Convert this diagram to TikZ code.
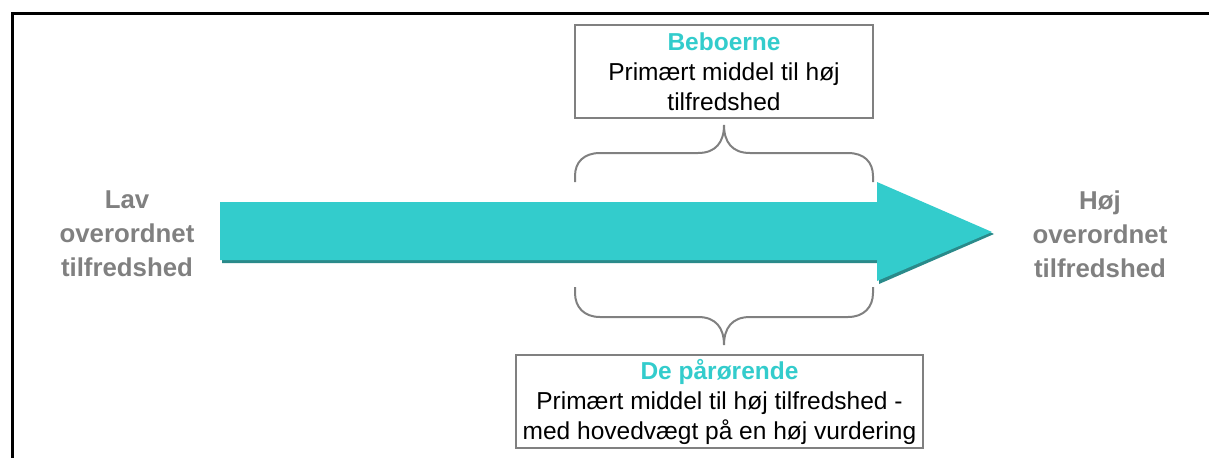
\documentclass[tikz,border=0pt]{standalone}
\usepackage{fontspec}
\setmainfont{Liberation Sans}
\definecolor{teal1}{HTML}{33CCCC}
\definecolor{teal2}{HTML}{2A8A8A}
\definecolor{greytxt}{HTML}{808080}
\definecolor{greyline}{HTML}{808080}
\tikzset{
  sidetext/.style={align=center, text=greytxt, font=\fontsize{25.8}{34}\selectfont\bfseries, inner sep=0pt},
  infobox/.style={draw=greyline, line width=2pt, align=center, inner sep=0pt, font=\fontsize{24.5}{30}\selectfont},
  bracestyle/.style={draw=greyline, line width=2pt},
  frameline/.style={draw=black, line width=3pt}
}
\begin{document}
\begin{tikzpicture}[x=1pt,y=-1pt]
\useasboundingbox (0,0) rectangle (1209,458);
% frame
\draw[frameline] (1209,13) -- (12,13) -- (12,458);
% arrow shadow and arrow
\fill[teal2] (222,204) -- (879,204) -- (879,184) -- (994,234) -- (879,284) -- (879,263) -- (222,263) -- cycle;
\fill[teal1] (220,202) -- (877,202) -- (877,182) -- (992,232) -- (877,281) -- (877,260) -- (220,260) -- cycle;
% side texts
\node[sidetext] (lav) at (127,234) {Lav\\overordnet\\tilfredshed};
\node[sidetext] (hoj) at (1100,234) {Høj\\overordnet\\tilfredshed};
% boxes
\node[infobox, minimum width=298pt, minimum height=93pt] (beb) at (724,71.5)
  {\textcolor{teal1}{\bfseries Beboerne}\\Primært middel til høj\\tilfredshed};
\node[infobox, minimum width=407pt, minimum height=93pt] (par) at (719.5,401.5)
  {\textcolor{teal1}{\bfseries De pårørende}\\Primært middel til høj tilfredshed -\\med hovedvægt på en høj vurdering};
% top brace
\coordinate (tb) at (724,125);
\draw[bracestyle] (575,182) -- (575,176) .. controls (575,162) and (584,153) .. (600,153)
  -- (698,153) .. controls (716,153) and (724,142) .. (tb)
  .. controls (724,142) and (732,153) .. (750,153)
  -- (848,153) .. controls (864,153) and (873,162) .. (873,176) -- (873,182);
% bottom brace
\coordinate (bb) at (724,345);
\draw[bracestyle] (575,287) -- (575,293) .. controls (575,307) and (584,317) .. (600,317)
  -- (698,317) .. controls (716,317) and (724,328) .. (bb)
  .. controls (724,328) and (732,317) .. (750,317)
  -- (848,317) .. controls (864,317) and (873,307) .. (873,293) -- (873,287);
\end{tikzpicture}
\end{document}
